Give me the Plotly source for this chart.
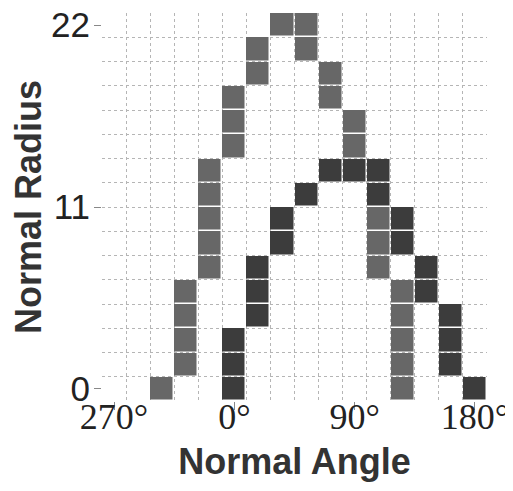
import plotly.graph_objects as go
import numpy as np

# Angle bins (degrees, -90 == 270°) and radius bins
angle_bins = [-90, -72, -54, -36, -18, 0, 18, 36, 54, 72, 90, 108, 126, 144, 162, 180]
radius_bins = [0, 1.467, 2.933, 4.4, 5.867, 7.333, 8.8, 10.267, 11.733, 13.2,
               14.667, 16.133, 17.6, 19.067, 20.533, 22.0]

# Accumulator cells: (angle, radius-bin index)
# Light (medium grey) sinusoid
light_angles = [-54, -36, -36, -36, -36, -18, -18, -18, -18, -18, 0, 0, 0, 18, 18, 36,
                54, 54, 72, 72, 90, 90, 108, 108, 108, 108, 108, 126, 126, 126, 126, 126]
light_rbins = [0, 1, 2, 3, 4, 5, 6, 7, 8, 9, 10, 11, 12, 13, 14, 15,
               14, 15, 12, 13, 10, 11, 5, 6, 7, 8, 9, 0, 1, 2, 3, 4]
# Dark sinusoid
dark_angles = [0, 0, 0, 18, 18, 18, 36, 36, 54, 72, 90, 108, 108, 126, 126, 144, 144,
               162, 162, 162, 180]
dark_rbins = [0, 1, 2, 3, 4, 5, 6, 7, 8, 9, 9, 8, 9, 6, 7, 4, 5, 1, 2, 3, 0]

x_tickvals = [-90, 0, 90, 180]
x_ticktext = ["270°", "0°", "90°", "180°"]
y_tickvals = [0, 11, 22]
y_ticktext = ["0", "11", "22"]

z = np.full((len(radius_bins), len(angle_bins)), np.nan)
for a, r in zip(light_angles, light_rbins):
    z[r, angle_bins.index(a)] = 1
for a, r in zip(dark_angles, dark_rbins):
    z[r, angle_bins.index(a)] = 2

fig = go.Figure(go.Heatmap(
    x=angle_bins, y=radius_bins, z=z,
    zmin=1, zmax=2,
    colorscale=[[0, "#676767"], [0.5, "#676767"], [0.5, "#3c3c3c"], [1, "#3c3c3c"]],
    showscale=False, xgap=1.5, ygap=1.5, hoverongaps=False,
))

# The page body adds an 8px offset; margins compensate so the plot area matches
fig.update_layout(
    width=513, height=491,
    margin=dict(l=94, r=34, t=5, b=98),
    plot_bgcolor="white", paper_bgcolor="white",
    showlegend=False,
)
fig.update_xaxes(
    range=[-99, 189], tickvals=x_tickvals, ticktext=x_ticktext,
    automargin=False, ticklabeloverflow="allow",
    showgrid=False, zeroline=False, showline=False,
    ticks="outside", ticklen=8, tickcolor="#888", tickwidth=1,
    ticklabelstandoff=-24,
    tickfont=dict(family="Liberation Serif", size=36, color="#222"),
    minor=dict(tick0=-99, dtick=18, showgrid=True, gridcolor="#b5b5b5",
               griddash="dot", gridwidth=1, ticks=""),
    title=dict(text="<b>Normal Angle</b>", standoff=12,
               font=dict(family="Liberation Sans", size=36, color="#333")),
)
fig.update_yaxes(
    range=[-11/15, 22 + 11/15], tickvals=y_tickvals, ticktext=y_ticktext,
    automargin=False, ticklabeloverflow="allow",
    showgrid=False, zeroline=False, showline=False,
    ticks="outside", ticklen=7, tickcolor="#888", tickwidth=1,
    ticklabelstandoff=-3,
    tickfont=dict(family="Liberation Sans", size=35, color="#222"),
    minor=dict(tick0=-11/15, dtick=22/15, showgrid=True, gridcolor="#b5b5b5",
               griddash="dot", gridwidth=1, ticks=""),
    title=dict(text="<b>Normal Radius</b>", standoff=0,
               font=dict(family="Liberation Sans", size=36, color="#333")),
)

fig.write_html("out.html")
